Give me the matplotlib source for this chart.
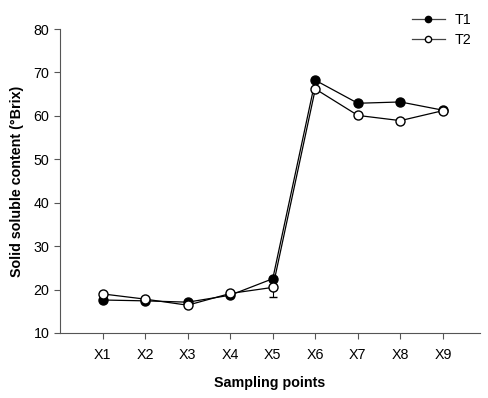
import numpy as np
import matplotlib.pyplot as plt
from matplotlib.lines import Line2D

plt.rcParams['font.family'] = ['Liberation Sans', 'DejaVu Sans']

points = ["X1", "X2", "X3", "X4", "X5", "X6", "X7", "X8", "X9"]
t1 = [17.6, 17.4, 17.1, 18.7, 22.5, 68.2, 62.9, 63.2, 61.3]
t2 = [19.0, 17.8, 16.4, 19.1, 20.5, 66.2, 60.1, 58.9, 61.2]
t1_err = [0.2, 0.2, 0.2, 0.2, 0.3, 0.3, 0.3, 0.2, 0.2]
t2_err = [0.2, 0.2, 0.2, 0.2, 2.3, 0.3, 0.4, 0.2, 0.2]

x = np.arange(1, len(points) + 1)

fig = plt.figure(figsize=(4.88, 3.98), dpi=100)
ax = fig.add_axes([60 / 488, 65 / 398, 420 / 488, 304 / 398])

ax.errorbar(x, t1, yerr=t1_err, color='black', marker='o', ms=6.5, mfc='black',
            mec='black', lw=0.9, capsize=3, elinewidth=0.8, zorder=3)
ax.errorbar(x, t2, yerr=t2_err, color='black', marker='o', ms=6.5, mfc='white',
            mec='black', lw=0.9, capsize=3, elinewidth=0.8, zorder=4)

ax.set_xlim(0, 9.87)
ax.set_ylim(10, 80)
ax.set_xticks(x)
ax.set_xticklabels(points)
ax.set_yticks(range(10, 81, 10))
ax.tick_params(labelsize=10.3, length=4, width=0.8, direction='out', color='#555555')
ax.tick_params(axis='x', pad=7)
ax.spines['top'].set_visible(False)
ax.spines['right'].set_visible(False)
ax.spines['left'].set_color('#555555')
ax.spines['bottom'].set_color('#555555')
ax.set_xlabel("Sampling points", fontsize=10.3, fontweight='bold', labelpad=10)
ax.set_ylabel("Solid soluble content (°Brix)", fontsize=10.3, fontweight='bold', labelpad=7)

handles = [
    Line2D([], [], color='#444444', lw=0.9, marker='o', ms=4.5, mfc='black', mec='black'),
    Line2D([], [], color='#444444', lw=0.9, marker='o', ms=4.5, mfc='white', mec='black'),
]
fig.legend(handles, ["T1", "T2"], loc='upper left', bbox_to_anchor=(399 / 488, 1.0),
           frameon=False, fontsize=10.3, handlelength=2.3, handletextpad=0.7,
           labelspacing=0.4)

fig.savefig("out.png", dpi=100)
